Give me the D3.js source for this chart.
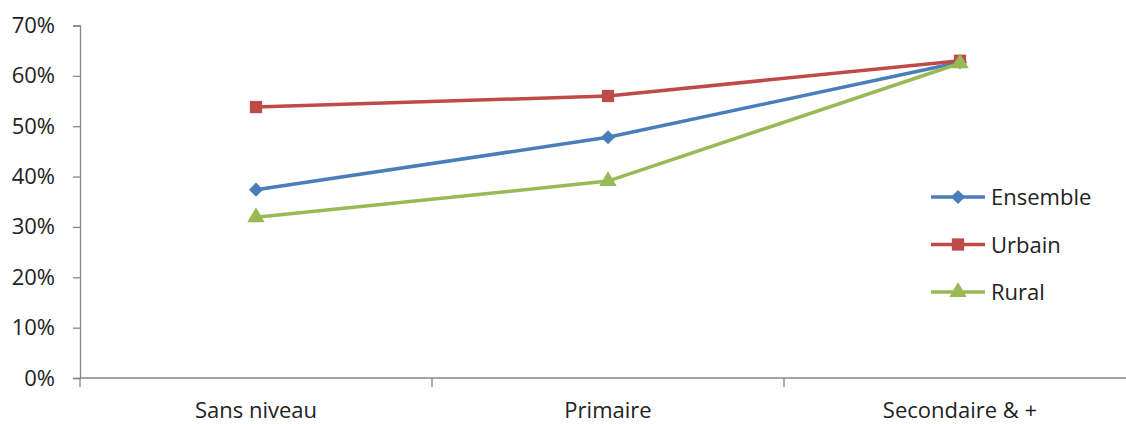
<!DOCTYPE html>
<html>
<head>
<meta charset="utf-8">
<script src="https://cdn.jsdelivr.net/npm/d3@7"></script>
<style>
  body { margin: 0; background: #fff; }
  text { font-family: "Open Sans", "Liberation Sans", sans-serif; fill: #222; }
</style>
</head>
<body>
<div class="chart"></div>
<script>
var categories = ["Sans niveau", "Primaire", "Secondaire & +"];
var ensemble = [0.374, 0.478, 0.627];
var urbain = [0.538, 0.560, 0.630];
var rural = [0.319, 0.391, 0.625];
var yTicks = [0, 0.1, 0.2, 0.3, 0.4, 0.5, 0.6, 0.7];

var series = [
  { name: "Ensemble", values: ensemble, color: "#4a7ebb", symbol: d3.symbolSquare, size: 100, rotate: 45 },
  { name: "Urbain", values: urbain, color: "#be4b48", symbol: d3.symbolSquare, size: 150, rotate: 0 },
  { name: "Rural", values: rural, color: "#98b954", symbol: d3.symbolTriangle, size: 130, rotate: 0 }
];

var chart_width = 1126;
var chart_height = 424;

var svg = d3.select('.chart')
  .append('svg')
  .attr('width', chart_width)
  .attr('height', chart_height);

// plot area runs past the right edge, like the cropped original
var x = d3.scaleBand()
  .domain(categories)
  .range([80, 1136]);

var y = d3.scaleLinear()
  .domain([0, 0.7])
  .range([378, 25.5]);

// y axis
var yAxis = svg.append('g')
  .attr('transform', 'translate(80,0)')
  .call(d3.axisLeft(y).tickValues(yTicks).tickFormat(d3.format('.0%')).tickSize(7));
yAxis.select('.domain').attr('stroke', '#868686').attr('stroke-width', 1.3);
yAxis.selectAll('.tick line').attr('stroke', '#868686').attr('stroke-width', 1.3);
yAxis.selectAll('.tick text')
  .attr('x', -25)
  .attr('font-size', '22px')
  .attr('fill', '#222');

// x axis
var xAxis = svg.append('g')
  .attr('transform', 'translate(0,378)');
xAxis.append('line')
  .attr('x1', 80).attr('x2', 1136)
  .attr('stroke', '#868686').attr('stroke-width', 1.3);
xAxis.selectAll('.cat-tick')
  .data(categories)
  .enter()
  .append('line')
  .attr('x1', function (d) { return x(d); })
  .attr('x2', function (d) { return x(d); })
  .attr('y1', 0).attr('y2', 9)
  .attr('stroke', '#868686').attr('stroke-width', 1.3);
xAxis.selectAll('.cat-label')
  .data(categories)
  .enter()
  .append('text')
  .attr('x', function (d) { return x(d) + x.bandwidth() / 2; })
  .attr('y', 40)
  .attr('text-anchor', 'middle')
  .attr('font-size', '22px')
  .text(function (d) { return d; });

var line = d3.line()
  .x(function (d, i) { return x(categories[i]) + x.bandwidth() / 2; })
  .y(function (d) { return y(d); });

series.forEach(function (s) {
  svg.append('path')
    .datum(s.values)
    .attr('d', line)
    .attr('fill', 'none')
    .attr('stroke', s.color)
    .attr('stroke-width', 3.5);
});

series.forEach(function (s) {
  svg.selectAll(null)
    .data(s.values)
    .enter()
    .append('path')
    .attr('d', d3.symbol().type(s.symbol).size(s.size))
    .attr('transform', function (d, i) {
      return 'translate(' + (x(categories[i]) + x.bandwidth() / 2) + ',' + y(d) + ') rotate(' + s.rotate + ')';
    })
    .attr('fill', s.color);
});

// legend
var legend = svg.append('g');
series.forEach(function (s, i) {
  var ly = 197 + i * 47.5;
  legend.append('line')
    .attr('x1', 931).attr('x2', 985)
    .attr('y1', ly).attr('y2', ly)
    .attr('stroke', s.color).attr('stroke-width', 3.5);
  legend.append('path')
    .attr('d', d3.symbol().type(s.symbol).size(s.size))
    .attr('transform', 'translate(958,' + ly + ') rotate(' + s.rotate + ')')
    .attr('fill', s.color);
  legend.append('text')
    .attr('x', 991)
    .attr('y', ly + 8)
    .attr('font-size', '22px')
    .text(s.name);
});
</script>
</body>
</html>
